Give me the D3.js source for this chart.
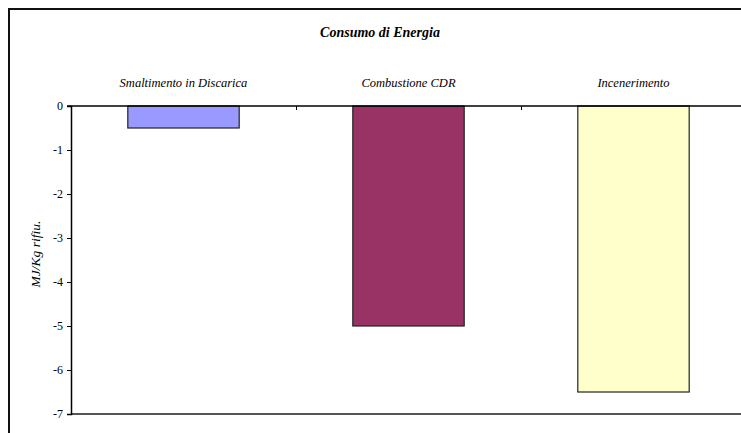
<!DOCTYPE html>
<html>
<head>
<meta charset="utf-8">
<script src="https://cdn.jsdelivr.net/npm/d3@7"></script>
<style>
  html, body { margin: 0; padding: 0; background: #fff; }
  svg { display: block; }
</style>
</head>
<body>
<svg id="chart" width="741" height="433"></svg>
<script>
// Energy consumption per kg of waste, by treatment route
const categories = ["Smaltimento in Discarica", "Combustione CDR", "Incenerimento"];
const values = [-0.5, -5, -6.5];
const colors = ["#9999FF", "#993366", "#FFFFCC"];
const yTicks = [0, -1, -2, -3, -4, -5, -6, -7];
const title = "Consumo di Energia";
const yTitle = "MJ/Kg rifiu.";

const FONT = '"Liberation Serif", Tinos, "Times New Roman", "DejaVu Serif", serif';

const svg = d3.select("#chart");
const W = 741, H = 433;
const plot = { left: 71, top: 106, right: 746, bottom: 414 };

// outer chart frame (runs past the right and bottom edges)
svg.append("rect")
  .attr("x", 9).attr("y", 9)
  .attr("width", W + 20).attr("height", H + 20)
  .attr("fill", "#fff").attr("stroke", "#111").attr("stroke-width", 2);

const x = d3.scaleBand().domain(categories).range([plot.left, plot.right]).padding(0);
const y = d3.scaleLinear().domain([-7, 0]).range([plot.bottom, plot.top]);
const barW = x.bandwidth() * 0.495;

// bars hang down from the zero line
svg.append("g").selectAll("rect")
  .data(categories)
  .join("rect")
  .attr("x", d => x(d) + (x.bandwidth() - barW) / 2)
  .attr("y", y(0))
  .attr("width", barW)
  .attr("height", (d, i) => y(values[i]) - y(0))
  .attr("fill", (d, i) => colors[i])
  .attr("stroke", "#222")
  .attr("stroke-width", 1.2);

// bottom edge of the plot area
svg.append("line")
  .attr("x1", plot.left).attr("x2", W)
  .attr("y1", y(-7)).attr("y2", y(-7))
  .attr("stroke", "#555").attr("stroke-width", 2);

// value axis
const yAxis = svg.append("g")
  .attr("transform", `translate(${plot.left},0)`)
  .call(d3.axisLeft(y).tickValues(yTicks).tickSize(4).tickPadding(4).tickFormat(d => String(d)));
yAxis.attr("font-family", null).attr("font-size", null);
yAxis.select(".domain").attr("stroke", "#000").attr("stroke-width", 1.5);
yAxis.selectAll(".tick line").attr("stroke", "#000");
yAxis.selectAll("text")
  .attr("font-family", FONT)
  .attr("font-size", 12).attr("fill", "#000");

// category axis along the zero line, ticks between categories
const boundary = d3.scaleLinear().domain([0, categories.length]).range([plot.left, plot.right]);
const xAxis = svg.append("g")
  .attr("transform", `translate(0,${y(0)})`)
  .call(d3.axisBottom(boundary).tickValues(d3.range(1, categories.length)).tickSize(4).tickFormat(""));
xAxis.select(".domain").remove();
xAxis.selectAll(".tick line").attr("stroke", "#000");
svg.append("line")
  .attr("x1", plot.left - 4).attr("x2", W)
  .attr("y1", y(0)).attr("y2", y(0))
  .attr("stroke", "#000").attr("stroke-width", 1.5);

// category labels above the zero line
svg.append("g").selectAll("text")
  .data(categories)
  .join("text")
  .attr("x", d => x(d) + x.bandwidth() / 2)
  .attr("y", 87)
  .attr("text-anchor", "middle")
  .attr("font-family", FONT)
  .attr("font-size", 12.5)
  .attr("font-style", "italic")
  .text(d => d);

// chart title
svg.append("text")
  .attr("x", 380).attr("y", 37)
  .attr("text-anchor", "middle")
  .attr("font-family", FONT)
  .attr("font-size", 14)
  .attr("font-style", "italic")
  .attr("font-weight", "bold")
  .text(title);

// value axis title
svg.append("text")
  .attr("transform", "translate(40,254) rotate(-90)")
  .attr("text-anchor", "middle")
  .attr("font-family", FONT)
  .attr("font-size", 13.5)
  .attr("font-style", "italic")
  .text(yTitle);
</script>
</body>
</html>
